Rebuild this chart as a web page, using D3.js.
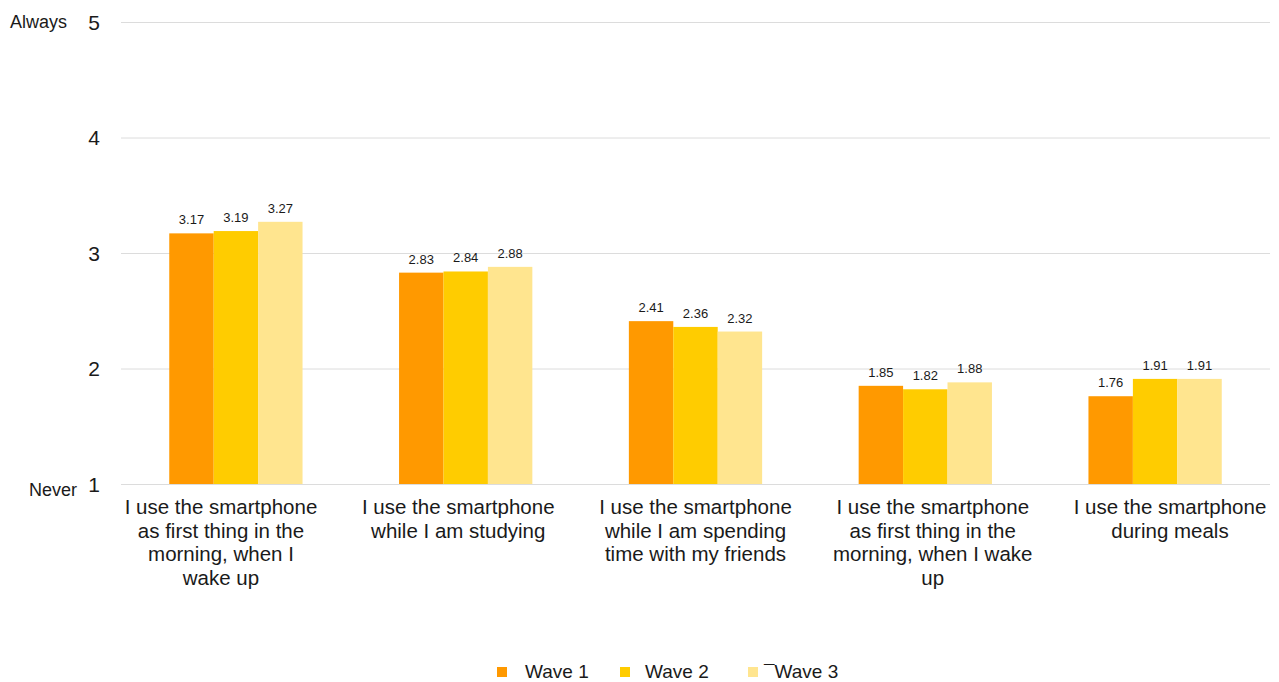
<!DOCTYPE html>
<html>
<head>
<meta charset="utf-8">
<script src="https://cdn.jsdelivr.net/npm/d3@7"></script>
<style>
  html, body { margin: 0; padding: 0; background: #fff; }
  svg text { font-family: "Liberation Sans", Arial, sans-serif; fill: #1a1a1a; }
</style>
</head>
<body>
<svg id="chart" width="1279" height="682"></svg>
<script>
// Survey items (x axis)
const categories = [
  ["I use the smartphone", "as first thing in the", "morning, when I", "wake up"],
  ["I use the smartphone", "while I am studying"],
  ["I use the smartphone", "while I am spending", "time with my friends"],
  ["I use the smartphone", "as first thing in the", "morning, when I wake", "up"],
  ["I use the smartphone", "during meals"]
];
const seriesNames = ["Wave 1", "Wave 2", "Wave 3"];
const legendLabels = ["Wave 1", "Wave 2", "\u00AFWave 3"];
const wave1 = [3.17, 2.83, 2.41, 1.85, 1.76];
const wave2 = [3.19, 2.84, 2.36, 1.82, 1.91];
const wave3 = [3.27, 2.88, 2.32, 1.88, 1.91];
const yTicks = [1, 2, 3, 4, 5];
const colors = ["#FF9900", "#FFCC00", "#FFE58F"];

const series = [wave1, wave2, wave3];
const svg = d3.select("#chart");

const plot = { left: 121, right: 1270, top: 22, bottom: 484 };

const x0 = d3.scaleBand()
  .domain(d3.range(categories.length))
  .range([plot.left, plot.right])
  .paddingInner(0.42)
  .paddingOuter(0.21);
const x1 = d3.scaleBand()
  .domain(d3.range(series.length))
  .range([0, x0.bandwidth()]);
const y = d3.scaleLinear().domain([1, 5]).range([plot.bottom, plot.top]);
// category label anchors run on their own, slightly wider spread
const xLabel = d3.scalePoint().domain(d3.range(categories.length)).range([221, 1170]);

// Gridlines
svg.append("g")
  .selectAll("line")
  .data(yTicks)
  .join("line")
  .attr("x1", plot.left).attr("x2", plot.right)
  .attr("y1", d => y(d) + 0.5).attr("y2", d => y(d) + 0.5)
  .attr("stroke", "#dcdcdc").attr("stroke-width", 1);

// Y axis tick labels
const yAxis = d3.axisLeft(y).tickValues(yTicks).tickSize(0).tickPadding(0).tickFormat(d3.format("d"));
const gy = svg.append("g").attr("transform", `translate(100,0)`).call(yAxis);
gy.select(".domain").remove();
gy.selectAll("text").style("font-size", "21px").attr("dy", "0.35em")
  .style("font-family", "Liberation Sans, Arial, sans-serif").attr("fill", "#1a1a1a");

svg.append("text").attr("x", 67).attr("y", y(5)).attr("dy", "0.35em")
  .attr("text-anchor", "end").style("font-size", "18px").text("Always");
svg.append("text").attr("x", 77).attr("y", y(1) + 6).attr("dy", "0.35em")
  .attr("text-anchor", "end").style("font-size", "18px").text("Never");

// Bars
const groups = svg.append("g").selectAll("g")
  .data(categories.map((c, i) => i))
  .join("g")
  .attr("transform", i => `translate(${x0(i)},0)`);

groups.selectAll("rect")
  .data(i => series.map((s, k) => ({ k, v: s[i] })))
  .join("rect")
  .attr("x", d => x1(d.k))
  .attr("width", x1.bandwidth())
  .attr("y", d => y(d.v))
  .attr("height", d => y(1) - y(d.v))
  .attr("fill", d => colors[d.k]);

groups.selectAll("text.val")
  .data(i => series.map((s, k) => ({ k, v: s[i] })))
  .join("text")
  .attr("class", "val")
  .attr("x", d => x1(d.k) + x1.bandwidth() / 2)
  .attr("y", d => y(d.v) - 9)
  .attr("text-anchor", "middle")
  .style("font-size", "13px")
  .text(d => d.v.toFixed(2));

// Category labels
const xl = svg.append("g");
categories.forEach((lines, i) => {
  const cx = xLabel(i);
  const t = xl.append("text")
    .attr("x", cx)
    .attr("y", 514)
    .attr("text-anchor", "middle")
    .style("font-size", "20.5px");
  lines.forEach((ln, j) => {
    t.append("tspan").attr("x", cx)
      .attr("dy", j === 0 ? 0 : 23.7).text(ln);
  });
});

// Legend
const legendX = [497, 620, 748];
const legendTextX = [525, 645, 764];
const leg = svg.append("g");
seriesNames.forEach((n, k) => {
  leg.append("rect").attr("x", legendX[k]).attr("y", 667).attr("width", 10).attr("height", 10)
    .attr("fill", colors[k]);
  leg.append("text").attr("x", legendTextX[k]).attr("y", 678)
    .style("font-size", "19px").text(legendLabels[k]);
});
</script>
</body>
</html>
